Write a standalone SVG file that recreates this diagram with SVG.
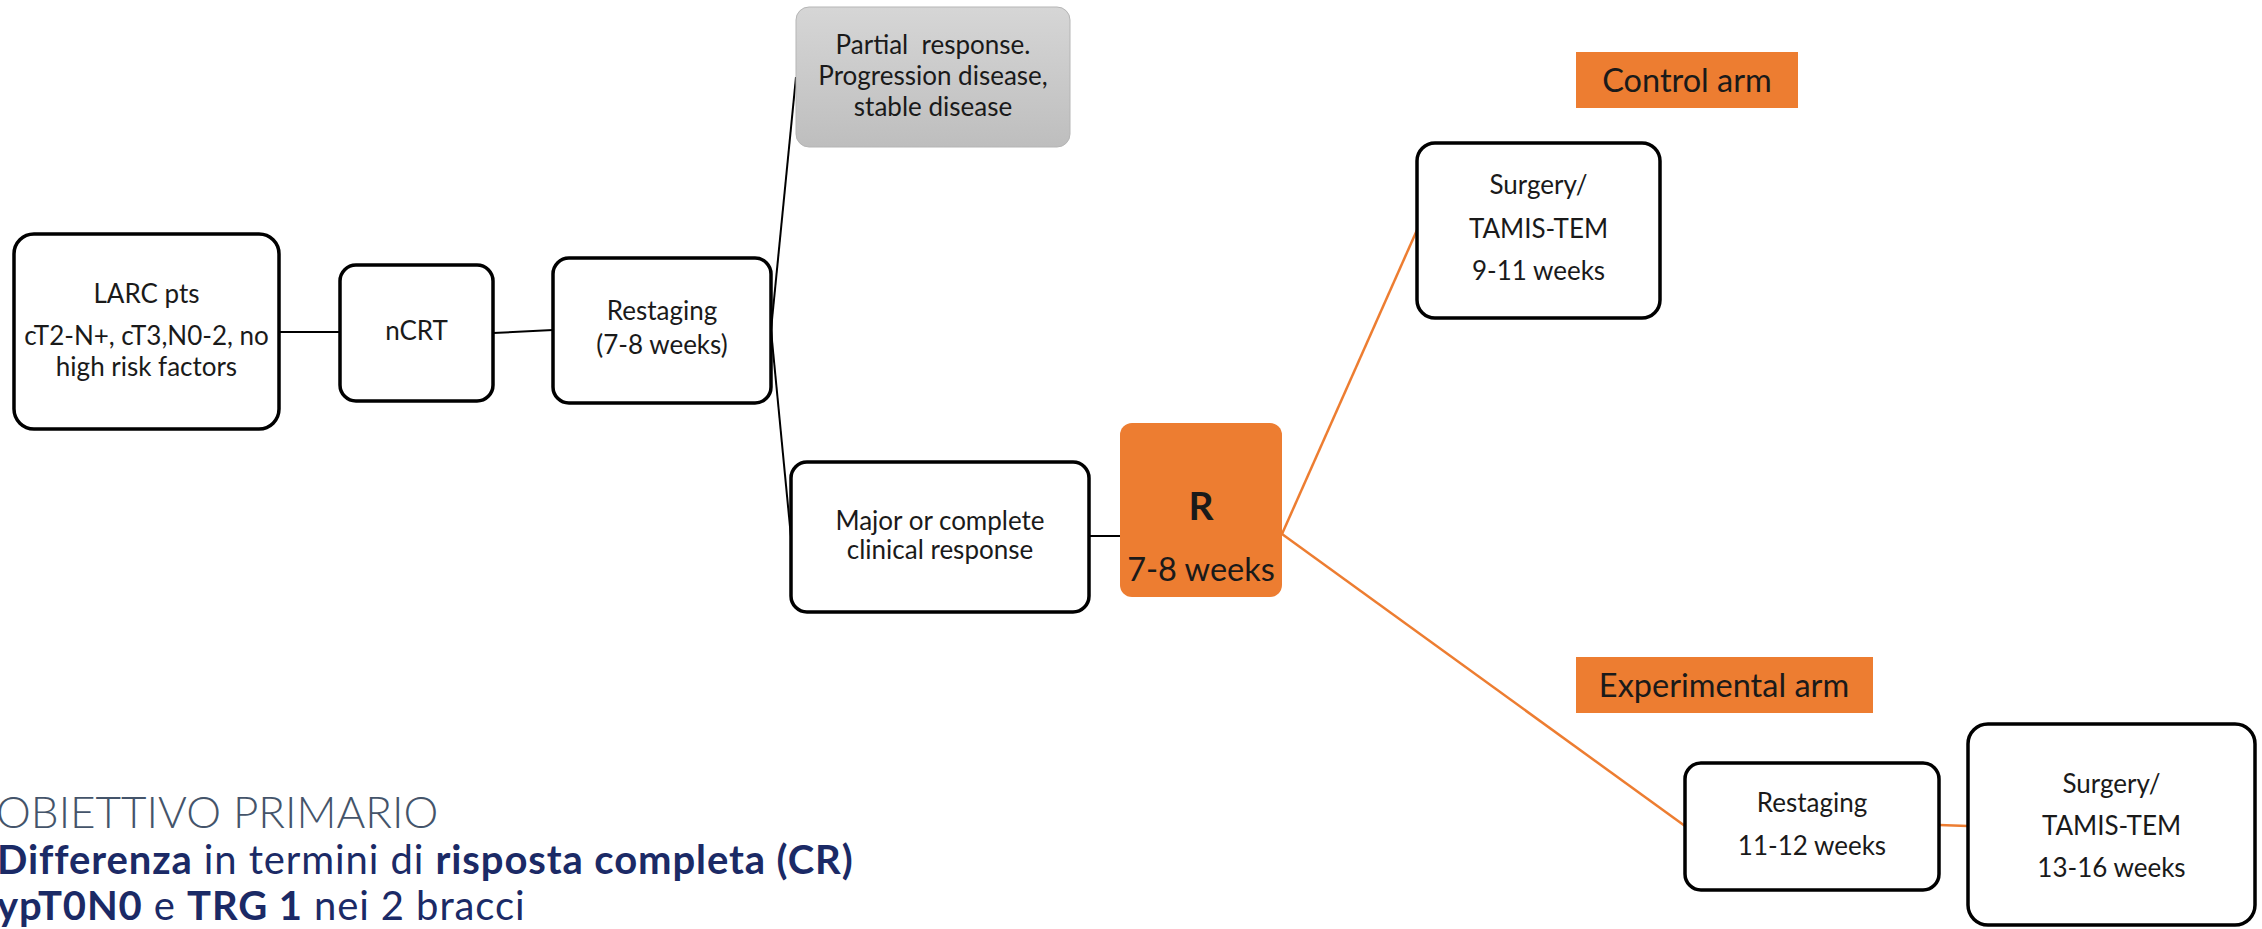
<svg xmlns="http://www.w3.org/2000/svg" width="2262" height="929" viewBox="0 0 2262 929">
  <defs>
    <linearGradient id="grayGrad" x1="0" y1="0" x2="0" y2="1">
      <stop offset="0" stop-color="#D6D6D6"/>
      <stop offset="1" stop-color="#BEBEBE"/>
    </linearGradient>
    <style>
      .box { fill: #FFFFFF; stroke: #000000; stroke-width: 3.5; }
      .t { font-family: Lato, "Liberation Sans", sans-serif; fill: #1A1A1A; text-anchor: middle; }
      .s26 { font-size: 26px; }
      .lbl { font-size: 32.5px; }
      .conn { stroke: #000000; stroke-width: 2; fill: none; }
      .oconn { stroke: #ED7D31; stroke-width: 2.5; fill: none; }
      .orange { fill: #ED7D31; }
      .bt { font-family: Lato, "Liberation Sans", sans-serif; fill: #1B2A66; font-size: 40px; letter-spacing: 0.9px; }
      .obj { font-family: Lato, "Liberation Sans", sans-serif; fill: #44546A; font-size: 44px; font-weight: 300; }
      .b { font-weight: bold; }
    </style>
  </defs>
  <rect width="2262" height="929" fill="#FFFFFF"/>

  <g id="connectors">
    <line class="conn" x1="279" y1="332" x2="340" y2="332"/>
    <line class="conn" x1="493" y1="333" x2="553" y2="330"/>
    <line class="conn" x1="771" y1="330" x2="796" y2="77"/>
    <line class="conn" x1="771" y1="330" x2="791" y2="537"/>
    <line class="conn" x1="1089" y1="536" x2="1120" y2="536"/>
    <line class="oconn" x1="1282" y1="534" x2="1417" y2="230"/>
    <line class="oconn" x1="1282" y1="534" x2="1685" y2="826"/>
    <line class="oconn" x1="1939" y1="825" x2="1968" y2="826"/>
  </g>

  <g id="larc">
    <rect class="box" x="14" y="234" width="265" height="195" rx="20"/>
    <text class="t s26" x="146.5" y="303">LARC pts</text>
    <text class="t s26" x="146.5" y="345">cT2-N+, cT3,N0-2, no</text>
    <text class="t s26" x="146.5" y="376">high risk factors</text>
  </g>

  <g id="ncrt">
    <rect class="box" x="340" y="265" width="153" height="136" rx="16"/>
    <text class="t s26" x="416.5" y="340">nCRT</text>
  </g>

  <g id="restaging1">
    <rect class="box" x="553" y="258" width="218" height="145" rx="16"/>
    <text class="t s26" x="662" y="320">Restaging</text>
    <text class="t s26" x="662" y="354">(7-8 weeks)</text>
  </g>

  <g id="partial">
    <rect x="796" y="7" width="274" height="140" rx="13" fill="url(#grayGrad)" stroke="#B5B5B5" stroke-width="1"/>
    <text class="t s26" x="933" y="54">Partial&#160; response.</text>
    <text class="t s26" x="933" y="85">Progression disease,</text>
    <text class="t s26" x="933" y="116">stable disease</text>
  </g>

  <g id="major">
    <rect class="box" x="791" y="462" width="298" height="150" rx="16"/>
    <text class="t s26" x="940" y="530">Major or complete</text>
    <text class="t s26" x="940" y="559">clinical response</text>
  </g>

  <g id="randomization">
    <rect class="orange" x="1120" y="423" width="162" height="174" rx="12"/>
    <text class="t b" x="1201" y="520" font-size="39">R</text>
    <text class="t lbl" x="1201" y="581">7-8 weeks</text>
  </g>

  <g id="control-arm">
    <rect class="orange" x="1576" y="52" width="222" height="56"/>
    <text class="t lbl" x="1687" y="92">Control arm</text>
  </g>

  <g id="surgery-control">
    <rect class="box" x="1417" y="143" width="243" height="175" rx="18"/>
    <text class="t s26" x="1538.5" y="194">Surgery/</text>
    <text class="t s26" x="1538.5" y="238">TAMIS-TEM</text>
    <text class="t s26" x="1538.5" y="280">9-11 weeks</text>
  </g>

  <g id="experimental-arm">
    <rect class="orange" x="1576" y="657" width="297" height="56"/>
    <text class="t lbl" x="1724" y="697">Experimental arm</text>
  </g>

  <g id="restaging2">
    <rect class="box" x="1685" y="763" width="254" height="127" rx="16"/>
    <text class="t s26" x="1812" y="812">Restaging</text>
    <text class="t s26" x="1812" y="855">11-12 weeks</text>
  </g>

  <g id="surgery-experimental">
    <rect class="box" x="1968" y="724" width="287" height="201" rx="20"/>
    <text class="t s26" x="2111.5" y="793">Surgery/</text>
    <text class="t s26" x="2111.5" y="835">TAMIS-TEM</text>
    <text class="t s26" x="2111.5" y="877">13-16 weeks</text>
  </g>

  <g id="objective">
    <text class="obj" x="-4" y="828">OBIETTIVO PRIMARIO</text>
    <text class="bt" x="-3" y="874"><tspan class="b">Differenza</tspan> in termini di <tspan class="b">risposta completa (CR)</tspan></text>
    <text class="bt" x="-3" y="920"><tspan class="b">ypT0N0</tspan> e <tspan class="b">TRG 1</tspan> nei 2 bracci</text>
  </g>
</svg>
